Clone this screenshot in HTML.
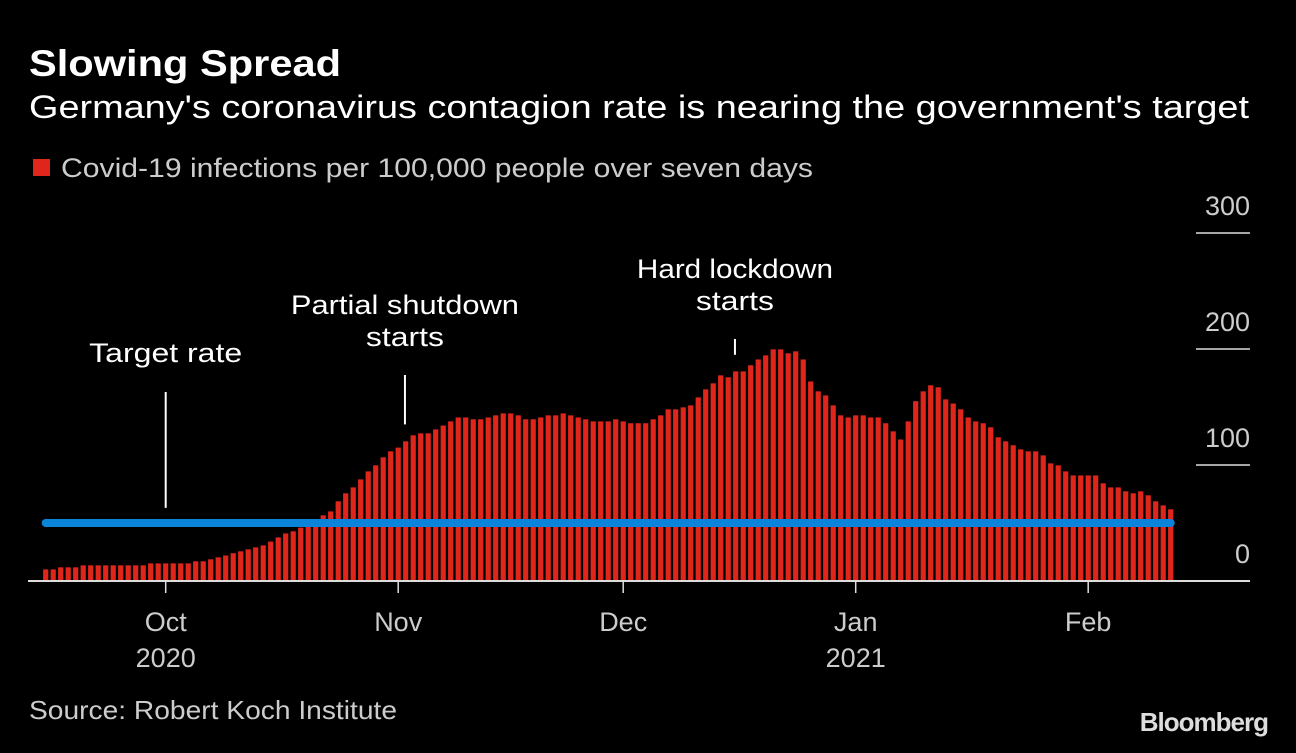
<!DOCTYPE html>
<html><head><meta charset="utf-8"><style>
body{margin:0;background:#000;width:1296px;height:748px;overflow:hidden;font-family:"Liberation Sans",sans-serif;color:#fff}
</style></head><body>
<svg id="chart" width="1296" height="748" xmlns="http://www.w3.org/2000/svg" font-family="Liberation Sans, sans-serif">
<text x="29" y="76" fill="#fff" font-size="37" font-weight="bold" textLength="312" lengthAdjust="spacingAndGlyphs">Slowing Spread</text>
<text x="29" y="118" fill="#fff" font-size="32" textLength="1220" lengthAdjust="spacingAndGlyphs">Germany's coronavirus contagion rate is nearing the government's target</text>
<rect x="33" y="159" width="17" height="17" fill="#e0251b"/>
<text x="61" y="177" fill="#ccc" font-size="27" textLength="752" lengthAdjust="spacingAndGlyphs">Covid-19 infections per 100,000 people over seven days</text>
<g id="yaxis"></g>
<g id="bars"></g>
<g id="xaxis"></g>
<g id="ann"></g>
<text x="29" y="719" fill="#ccc" font-size="26" textLength="368" lengthAdjust="spacingAndGlyphs">Source: Robert Koch Institute</text>
<text x="1268" y="731" fill="#ddd" font-size="26" font-weight="bold" text-anchor="end" letter-spacing="-1">Bloomberg</text>
</svg>
<script>
const values=[10,10,11.8,11.8,11.8,13.5,13.5,13.5,13.5,13.5,13.5,13.5,13.5,13.5,15.2,15.2,15.2,15.2,15.2,15.2,17,17,18.7,20.4,22,24,25.6,27.3,29,30.7,34,37.6,41,42.8,46,48,52,56.6,60,68.7,75.6,80.7,87.6,94.5,99.7,106.6,111.8,115,120.4,125.6,127.3,127.3,130.7,134,137.6,141,141,139.4,139.4,141,142.8,144.5,144.5,142.8,139.4,139.4,141,142.8,142.8,144.5,142.8,141,139.4,137.6,137.6,137.6,139.4,137.6,136,136,136,139.4,142.8,148,148,149.7,151.4,158.3,165.2,170.4,177.3,175.6,180.7,180.7,186,191,194.5,199.7,199.7,196.3,198,191,172,163.5,160,151.4,142.8,141,142.8,142.8,141,141,136,129,122,137.6,155,163.5,168.7,167,156.6,153,148,141,137.6,136,132.5,123.9,120.4,117,113.5,111.8,111.8,108.3,101.4,99.7,94.5,91,91,91,91,84.2,80.7,80.7,77.3,75.6,77.3,73.9,68.7,65.2,61.8];
const yTicks=[0,100,200,300];
const monthLabels=["Oct","Nov","Dec","Jan","Feb"];
const monthDayIndex=[16,47,77,108,139];
const yearLabels=["2020","","","2021",""];
const targetRate=50;
const annotations=[{text:["Target rate"],widths:[153],day:16,value:63,top:353},{text:["Partial shutdown","starts"],widths:[228,78],day:47.9,value:135,top:305},{text:["Hard lockdown","starts"],widths:[196,78],day:91.9,value:195,top:269}];
const NS="http://www.w3.org/2000/svg";
const x0=45.7,dx=7.5,base=581,ppu=1.16;
const X=i=>x0+i*dx, Y=v=>base-v*ppu;
function mk(tag,attrs,parent){const e=document.createElementNS(NS,tag);for(const k in attrs)e.setAttribute(k,attrs[k]);parent.appendChild(e);return e;}
const bars=document.getElementById('bars'),ya=document.getElementById('yaxis'),xa=document.getElementById('xaxis'),ann=document.getElementById('ann');
values.forEach((v,i)=>{const r=mk('rect',{x:X(i)-2.6,y:Y(v),width:5.2,height:v*ppu,fill:'#e0251b'},bars);

});
yTicks.forEach(t=>{if(t>0){const l=mk('line',{x1:1196,x2:1250,y1:Y(t),y2:Y(t),stroke:'#ddd','stroke-width':1.5},ya);

}
const tx=mk('text',{x:1250,y:Y(t)-18,fill:'#ccc','font-size':27,'text-anchor':'end'},ya);tx.textContent=t;

});
const bl=mk('line',{x1:28,x2:1250,y1:base,y2:base,stroke:'#ddd','stroke-width':2},xa);


monthLabels.forEach((m,k)=>{const x=X(monthDayIndex[k]);
const t=mk('line',{x1:x,x2:x,y1:base,y2:base+12,stroke:'#ddd','stroke-width':1.5},xa);


const lb=mk('text',{x:x,y:631,fill:'#ccc','font-size':27,'text-anchor':'middle'},xa);lb.textContent=m;


if(yearLabels[k]){const yl=mk('text',{x:x,y:667,fill:'#ccc','font-size':27,'text-anchor':'middle'},xa);yl.textContent=yearLabels[k];

}});
const tl=mk('line',{x1:X(0),x2:X(values.length-1),y1:Y(targetRate),y2:Y(targetRate),stroke:'#0a84da','stroke-width':8,'stroke-linecap':'round'},bars);


annotations.forEach(a=>{const x=X(a.day);
a.text.forEach((s,j)=>{const t=mk('text',{x:x,y:a.top+j*32+9,fill:'#fff','font-size':27,'text-anchor':'middle',textLength:a.widths[j],lengthAdjust:'spacingAndGlyphs'},ann);t.textContent=s;

});
const y1=a.top+(a.text.length-1)*32+23+(a.text.length>1?15:16);
const l=mk('line',{x1:x,x2:x,y1:y1,y2:Y(a.value),stroke:'#fff','stroke-width':2},ann);

});
</script>
</body></html>
